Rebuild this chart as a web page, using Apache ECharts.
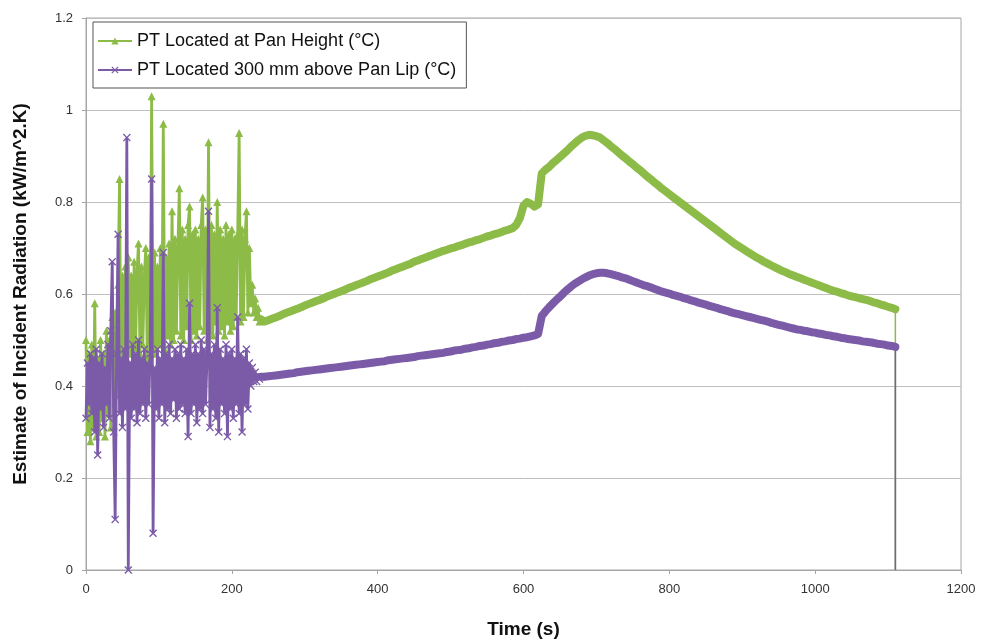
<!DOCTYPE html>
<html><head><meta charset="utf-8">
<script src="https://cdn.jsdelivr.net/npm/echarts@6/dist/echarts.min.js"></script>
<style>html,body{margin:0;padding:0;background:#fff}#c{width:985px;height:641px}</style>
</head><body><div id="c"></div>
<script>
// Sample times (s)
const timeEarly = [
  0,2,4,6,8,10,12,14,16,18,
  20,22,24,26,28,30,32,34,36,38,
  40,42,44,46,48,50,52,54,56,58,
  60,62,64,66,68,70,72,74,76,78,
  80,82,84,86,88,90,92,94,96,98,
  100,102,104,106,108,110,112,114,116,118,
  120,122,124,126,128,130,132,134,136,138,
  140,142,144,146,148,150,152,154,156,158,
  160,162,164,166,168,170,172,174,176,178,
  180,182,184,186,188,190,192,194,196,198,
  200,202,204,206,208,210,212,214,216,218,
  220,222,224,226,228,230,232,234,236,238,
  240
];
const timeLate = [
  245,250,255,260,265,270,275,280,285,290,
  295,300,305,310,315,320,325,330,335,340,
  345,350,355,360,365,370,375,380,385,390,
  395,400,405,410,415,420,425,430,435,440,
  445,450,455,460,465,470,475,480,485,490,
  495,500,505,510,515,520,525,530,535,540,
  545,550,555,560,565,570,575,580,585,590,
  595,600,605,610,615,620,625,630,635,640,
  645,650,655,660,665,670,675,680,685,690,
  695,700,705,710,715,720,725,730,735,740,
  745,750,755,760,765,770,775,780,785,790,
  795,800,805,810,815,820,825,830,835,840,
  845,850,855,860,865,870,875,880,885,890,
  895,900,905,910,915,920,925,930,935,940,
  945,950,955,960,965,970,975,980,985,990,
  995,1000,1005,1010,1015,1020,1025,1030,1035,1040,
  1045,1050,1055,1060,1065,1070,1075,1080,1085,1090,
  1095,1100,1105,1110
];
const timeEnd = [1110];

// PT Located at Pan Height
const panEarly = [
  0.50,0.30,0.47,0.28,0.49,0.31,0.58,0.29,0.46,0.30,
  0.50,0.33,0.47,0.29,0.52,0.34,0.50,0.31,0.55,0.36,
  0.56,0.38,0.62,0.85,0.40,0.64,0.44,0.66,0.46,0.68,
  0.47,0.64,0.45,0.67,0.48,0.65,0.71,0.47,0.66,0.49,
  0.64,0.70,0.46,0.68,0.50,1.03,0.48,0.69,0.47,0.66,
  0.49,0.70,0.50,0.97,0.48,0.68,0.51,0.71,0.49,0.78,
  0.50,0.72,0.52,0.70,0.83,0.51,0.74,0.50,0.72,0.53,
  0.75,0.79,0.50,0.73,0.52,0.74,0.51,0.72,0.53,0.75,
  0.81,0.52,0.74,0.50,0.93,0.52,0.75,0.51,0.73,0.54,
  0.80,0.52,0.74,0.53,0.72,0.51,0.75,0.54,0.73,0.52,
  0.74,0.53,0.72,0.55,0.73,0.95,0.54,0.74,0.55,0.72,
  0.78,0.56,0.70,0.58,0.62,0.56,0.59,0.55,0.57,0.54,
  0.545
];
const panLate = [
  0.540,0.543,0.546,0.549,0.552,0.556,0.559,0.562,0.565,0.568,
  0.571,0.575,0.578,0.581,0.584,0.587,0.590,0.594,0.597,0.600,
  0.603,0.606,0.609,0.613,0.616,0.619,0.622,0.625,0.628,0.632,
  0.635,0.638,0.641,0.644,0.647,0.651,0.654,0.657,0.660,0.663,
  0.666,0.670,0.673,0.676,0.679,0.682,0.685,0.688,0.691,0.694,
  0.696,0.699,0.701,0.704,0.706,0.709,0.712,0.714,0.717,0.719,
  0.722,0.725,0.727,0.730,0.732,0.735,0.738,0.740,0.743,0.750,
  0.765,0.792,0.800,0.796,0.790,0.795,0.862,0.870,0.876,0.884,
  0.891,0.898,0.905,0.912,0.920,0.927,0.934,0.940,0.944,0.946,
  0.945,0.943,0.940,0.934,0.928,0.921,0.915,0.908,0.901,0.895,
  0.888,0.882,0.875,0.869,0.862,0.855,0.849,0.842,0.836,0.829,
  0.823,0.817,0.811,0.805,0.799,0.793,0.787,0.781,0.775,0.769,
  0.763,0.757,0.751,0.745,0.739,0.733,0.727,0.721,0.715,0.709,
  0.704,0.699,0.694,0.689,0.684,0.679,0.675,0.670,0.666,0.662,
  0.658,0.654,0.650,0.647,0.643,0.640,0.637,0.634,0.631,0.628,
  0.625,0.622,0.619,0.616,0.613,0.610,0.607,0.605,0.602,0.600,
  0.597,0.595,0.593,0.591,0.589,0.587,0.585,0.582,0.580,0.577,
  0.575,0.572,0.570,0.567
];
const panEnd = [0];

// PT Located 300 mm above Pan Lip
const lipEarly = [
  0.33,0.45,0.36,0.47,0.34,0.46,0.30,0.48,0.25,0.45,
  0.35,0.47,0.31,0.44,0.36,0.49,0.33,0.52,0.67,0.30,
  0.11,0.47,0.73,0.34,0.46,0.31,0.48,0.35,0.94,0.00,
  0.45,0.33,0.49,0.35,0.47,0.32,0.50,0.34,0.46,0.36,
  0.48,0.33,0.45,0.36,0.47,0.85,0.08,0.44,0.35,0.48,
  0.33,0.46,0.36,0.69,0.32,0.47,0.35,0.49,0.34,0.46,
  0.37,0.48,0.33,0.47,0.35,0.49,0.36,0.46,0.34,0.48,
  0.29,0.58,0.34,0.47,0.36,0.49,0.32,0.47,0.35,0.50,
  0.34,0.48,0.36,0.46,0.78,0.31,0.47,0.35,0.49,0.33,
  0.57,0.30,0.48,0.36,0.46,0.34,0.49,0.29,0.47,0.35,
  0.48,0.33,0.46,0.36,0.55,0.34,0.47,0.30,0.46,0.36,
  0.48,0.35,0.45,0.40,0.44,0.41,0.43,0.41,0.42,0.415,
  0.42
];
const lipLate = [
  0.420,0.421,0.422,0.423,0.424,0.425,0.426,0.427,0.428,0.430,
  0.431,0.432,0.433,0.434,0.435,0.436,0.437,0.438,0.439,0.440,
  0.441,0.442,0.443,0.444,0.445,0.446,0.447,0.448,0.449,0.450,
  0.451,0.452,0.453,0.454,0.456,0.457,0.458,0.459,0.460,0.461,
  0.462,0.463,0.465,0.466,0.467,0.468,0.469,0.470,0.471,0.472,
  0.474,0.475,0.477,0.478,0.479,0.481,0.482,0.484,0.485,0.487,
  0.488,0.490,0.491,0.493,0.494,0.496,0.497,0.499,0.500,0.502,
  0.503,0.505,0.506,0.508,0.510,0.513,0.552,0.562,0.571,0.579,
  0.587,0.594,0.602,0.609,0.616,0.622,0.627,0.632,0.636,0.640,
  0.643,0.645,0.646,0.646,0.645,0.643,0.641,0.639,0.636,0.634,
  0.631,0.628,0.625,0.622,0.619,0.617,0.614,0.611,0.608,0.605,
  0.603,0.601,0.598,0.596,0.594,0.591,0.589,0.586,0.584,0.581,
  0.579,0.577,0.574,0.572,0.570,0.567,0.565,0.563,0.560,0.558,
  0.556,0.554,0.552,0.550,0.548,0.546,0.544,0.542,0.540,0.537,
  0.535,0.533,0.531,0.529,0.527,0.525,0.523,0.522,0.520,0.519,
  0.517,0.516,0.514,0.513,0.511,0.510,0.508,0.507,0.505,0.504,
  0.502,0.501,0.500,0.499,0.497,0.496,0.495,0.494,0.492,0.491,
  0.490,0.488,0.487,0.485
];
const lipEnd = [0];

const seriesNames = ['PT Located at Pan Height (°C)', 'PT Located 300 mm above Pan Lip (°C)'];
const xTicks = [0, 200, 400, 600, 800, 1000, 1200];
const yTicks = [0, 0.2, 0.4, 0.6, 0.8, 1, 1.2];

function zip(ts, vs) { return ts.map((t, i) => [t, vs[i]]); }
function parts(early, late, end) {
  const e = zip(timeEarly, early);
  const l = zip(timeLate, late);
  const last = l[l.length - 1];
  return {
    noisy: e,
    smooth: [e[e.length - 1]].concat(l),
    drop: [last].concat(zip(timeEnd, end))
  };
}
const pan = parts(panEarly, panLate, panEnd);
const lip = parts(lipEarly, lipLate, lipEnd);

const GREEN = '#8DBB47';
const PURPLE = '#7B5BA8';
const xMarker = 'path://M0,1.2 L1.2,0 L5,3.8 L8.8,0 L10,1.2 L6.2,5 L10,8.8 L8.8,10 L5,6.2 L1.2,10 L0,8.8 L3.8,5 Z';
const FONT = 'Liberation Sans, Arial, sans-serif';

function mk(name, data, color, symbol, kind, z) {
  const s = { name, type: 'line', data, sampling: 'none', z, itemStyle: { color } };
  if (kind === 'noisy') {
    Object.assign(s, { showSymbol: true, showAllSymbol: true, symbol, symbolSize: 8,
      lineStyle: { color, width: 2.8 } });
  } else if (kind === 'smooth') {
    Object.assign(s, { showSymbol: false, symbol, symbolSize: 8,
      lineStyle: { color, width: 8, cap: 'round', join: 'round' } });
  } else {
    Object.assign(s, { showSymbol: false, symbol, symbolSize: 8,
      lineStyle: { color, width: 1.5 } });
  }
  return s;
}

const chart = echarts.init(document.getElementById('c'), null, { renderer: 'canvas' });
chart.setOption({
  animation: false,
  backgroundColor: '#ffffff',
  grid: { left: 86, right: 24, top: 18, bottom: 71, outerBoundsMode: 'none', containLabel: false,
    show: true, borderColor: '#a6a6a6', borderWidth: 1, backgroundColor: 'transparent' },
  legend: {
    orient: 'vertical', left: 93, top: 22,
    backgroundColor: '#ffffff', borderColor: '#555555', borderWidth: 1,
    padding: [10, 10, 9, 4], itemGap: 11, itemWidth: 34, itemHeight: 9,
    textStyle: { fontFamily: FONT, fontSize: 18, color: '#111' },
    data: seriesNames
  },
  xAxis: {
    type: 'value', min: xTicks[0], max: xTicks[xTicks.length - 1], interval: 200,
    name: 'Time (s)', nameLocation: 'middle', nameGap: 50,
    nameTextStyle: { fontFamily: FONT, fontSize: 19, fontWeight: 'bold', color: '#111' },
    axisLine: { show: true, lineStyle: { color: '#a6a6a6' } },
    axisTick: { show: true, length: 4, lineStyle: { color: '#a6a6a6' } },
    axisLabel: { margin: 13, fontFamily: FONT, fontSize: 13, color: '#333', formatter: v => String(v) },
    splitLine: { show: false }
  },
  yAxis: {
    type: 'value', min: yTicks[0], max: yTicks[yTicks.length - 1], interval: 0.2,
    name: 'Estimate of Incident Radiation (kW/m^2.K)', nameLocation: 'middle', nameGap: 56,
    nameTextStyle: { fontFamily: FONT, fontSize: 19, fontWeight: 'bold', color: '#111' },
    axisLine: { show: true, lineStyle: { color: '#a6a6a6' } },
    axisTick: { show: true, length: 4, lineStyle: { color: '#a6a6a6' } },
    axisLabel: { margin: 13, fontFamily: FONT, fontSize: 13, color: '#333',
      formatter: v => String(Math.round(v * 10) / 10) },
    splitLine: { show: true, lineStyle: { color: '#bfbfbf', width: 1 } }
  },
  series: [
    mk(seriesNames[0], pan.noisy, GREEN, 'triangle', 'noisy', 2),
    mk(seriesNames[0], pan.smooth, GREEN, 'triangle', 'smooth', 2),
    mk(seriesNames[0], pan.drop, GREEN, 'triangle', 'drop', 2),
    mk(seriesNames[1], lip.noisy, PURPLE, xMarker, 'noisy', 3),
    mk(seriesNames[1], lip.smooth, PURPLE, xMarker, 'smooth', 3),
    mk(seriesNames[1], lip.drop, PURPLE, xMarker, 'drop', 3)
  ]
});
</script>
</body></html>
